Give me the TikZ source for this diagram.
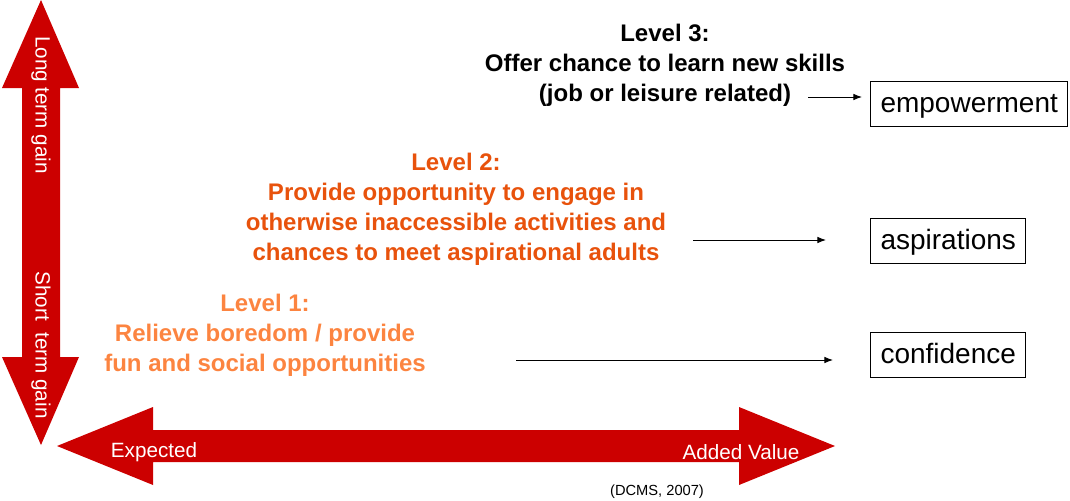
\documentclass[tikz,border=0pt]{standalone}
\usepackage{fontspec}
\setmainfont{Liberation Sans}
\usetikzlibrary{arrows.meta}
\definecolor{gainred}{RGB}{204,0,0}
\definecolor{leveltwo}{RGB}{232,82,12}
\definecolor{levelone}{RGB}{252,132,64}

\tikzset{
	level/.style={align=center,inner sep=0pt,font=\fontsize{18}{22.5}\selectfont\bfseries},
	outcome/.style={draw,line width=0.75pt,anchor=west,inner xsep=7.5pt,inner ysep=0pt,text height=15pt,text depth=2pt,minimum height=33.75pt,font=\fontsize{21}{25}\selectfont},
	axislabel/.style={text=white,inner sep=0pt,font=\fontsize{15.5}{18}\selectfont},
	link/.style={-{Latex[length=6.5pt,width=5pt]},line width=0.75pt}
}

\begin{document}
\begin{tikzpicture}[x=0.75pt,y=-0.75pt]
	\useasboundingbox (0,0) rectangle (1070,500);
	% double arrows
	\fill[gainred] (41,0) -- (79,88) -- (60,88) -- (60,357) -- (79,357) -- (41,445) -- (2,357) -- (22,357) -- (22,88) -- (2,88) -- cycle;
	\fill[gainred] (57,446) -- (153,407) -- (153,430) -- (739,430) -- (739,407) -- (835,446) -- (739,485) -- (739,462) -- (153,462) -- (153,485) -- cycle;
	\node[axislabel,rotate=-90] (long) at (41,105) {Long term gain};
	\node[axislabel,rotate=-90] (short) at (41,345) {Short\ \ term gain};
	\node[axislabel] (expected) at (154,452) {Expected};
	\node[axislabel] (added) at (741,452) {Added Value};
	\node[font=\fontsize{11}{13}\selectfont] (source) at (657,492) {(DCMS, 2007)};
	% levels
	\node[level] (l3) at (665,65) {Level 3:\\Offer chance to learn new skills\\(job or leisure related)};
	\node[level,text=leveltwo] (l2) at (456,209) {Level 2:\\Provide opportunity to engage in\\otherwise inaccessible activities and\\chances to meet aspirational adults};
	\node[level,text=levelone] (l1) at (265,335) {Level 1:\\Relieve boredom / provide\\fun and social opportunities};
	% outcomes
	\node[outcome] (empowerment) at (870,103.5) {empowerment};
	\node[outcome] (aspirations) at (870,240.5) {aspirations};
	\node[outcome] (confidence) at (870,354.5) {confidence};
	\coordinate (from3) at (808,97);
	\coordinate (from2) at (693,240);
	\coordinate (from1) at (516,360);
	\draw[link,shorten >=6pt] (from3) -- (from3 -| empowerment.west);
	\draw[link,shorten >=33pt] (from2) -- (from2 -| aspirations.west);
	\draw[link,shorten >=27.75pt] (from1) -- (from1 -| confidence.west);
\end{tikzpicture}
\end{document}
